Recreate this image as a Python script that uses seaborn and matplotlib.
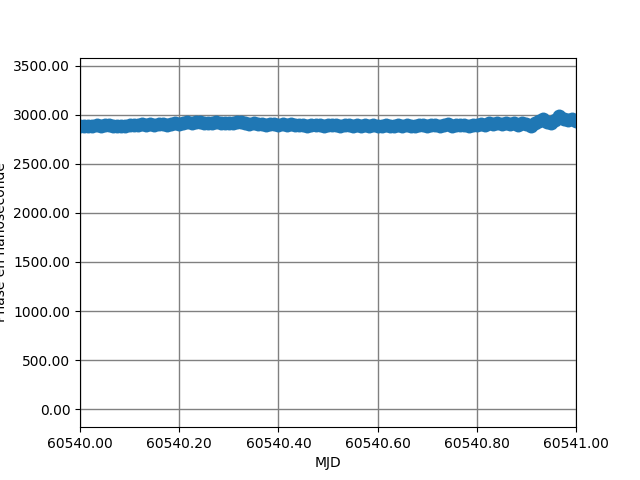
import numpy as np
import matplotlib
matplotlib.use("Agg")
import matplotlib.pyplot as plt
import seaborn as sns
from matplotlib.ticker import FormatStrFormatter

# Phase measurements (ns), one every 12 minutes over the day MJD 60540
mjd_start = 60540.0
step_days = 1.0 / 120
phase_ns = [
    2885, 2890, 2880, 2888, 2895, 2885, 2892, 2898, 2885, 2882, 2890, 2888, 2895,
    2898, 2892, 2902, 2896, 2905, 2900, 2910, 2905, 2900, 2910, 2915, 2910,
    2915, 2925, 2915, 2922, 2928, 2918, 2920, 2915, 2922, 2912, 2918, 2920,
    2915, 2922, 2928, 2915, 2910, 2918, 2905, 2910, 2900, 2905, 2910, 2900,
    2902, 2896, 2904, 2892, 2898, 2895, 2890, 2898, 2892, 2895, 2890, 2896,
    2892, 2895, 2888, 2898, 2892, 2886, 2895, 2890, 2896, 2888, 2894, 2890,
    2888, 2894, 2890, 2885, 2896, 2890, 2893, 2887, 2890, 2896, 2893, 2888,
    2893, 2900, 2890, 2896, 2903, 2888, 2898, 2894, 2900, 2886, 2895, 2898,
    2905, 2896, 2912, 2902, 2916, 2910, 2918, 2905, 2912, 2900, 2915, 2910,
    2890, 2920, 2940, 2955, 2925, 2915, 2945, 2985, 2960, 2945, 2955, 2940,
]
mjd = mjd_start + step_days * np.arange(len(phase_ns))

fig, ax = plt.subplots(figsize=(6.4, 4.8), dpi=100)
sns.scatterplot(x=mjd, y=phase_ns, ax=ax, s=100, color="#1f77b4",
                linewidth=0, legend=False)

ax.set_xlim(60540.0, 60541.0)
ax.set_ylim(-184, 3582)
ax.set_xticks(np.arange(60540.0, 60541.01, 0.2))
ax.set_yticks(np.arange(0, 3501, 500))
ax.xaxis.set_major_formatter(FormatStrFormatter("%.2f"))
ax.yaxis.set_major_formatter(FormatStrFormatter("%.2f"))
ax.set_axisbelow(True)
ax.grid(True, color="gray", linewidth=1)
ax.set_xlabel("MJD")
ax.set_ylabel("Phase en nanoseconde")

plt.savefig("out.png", dpi=100)
